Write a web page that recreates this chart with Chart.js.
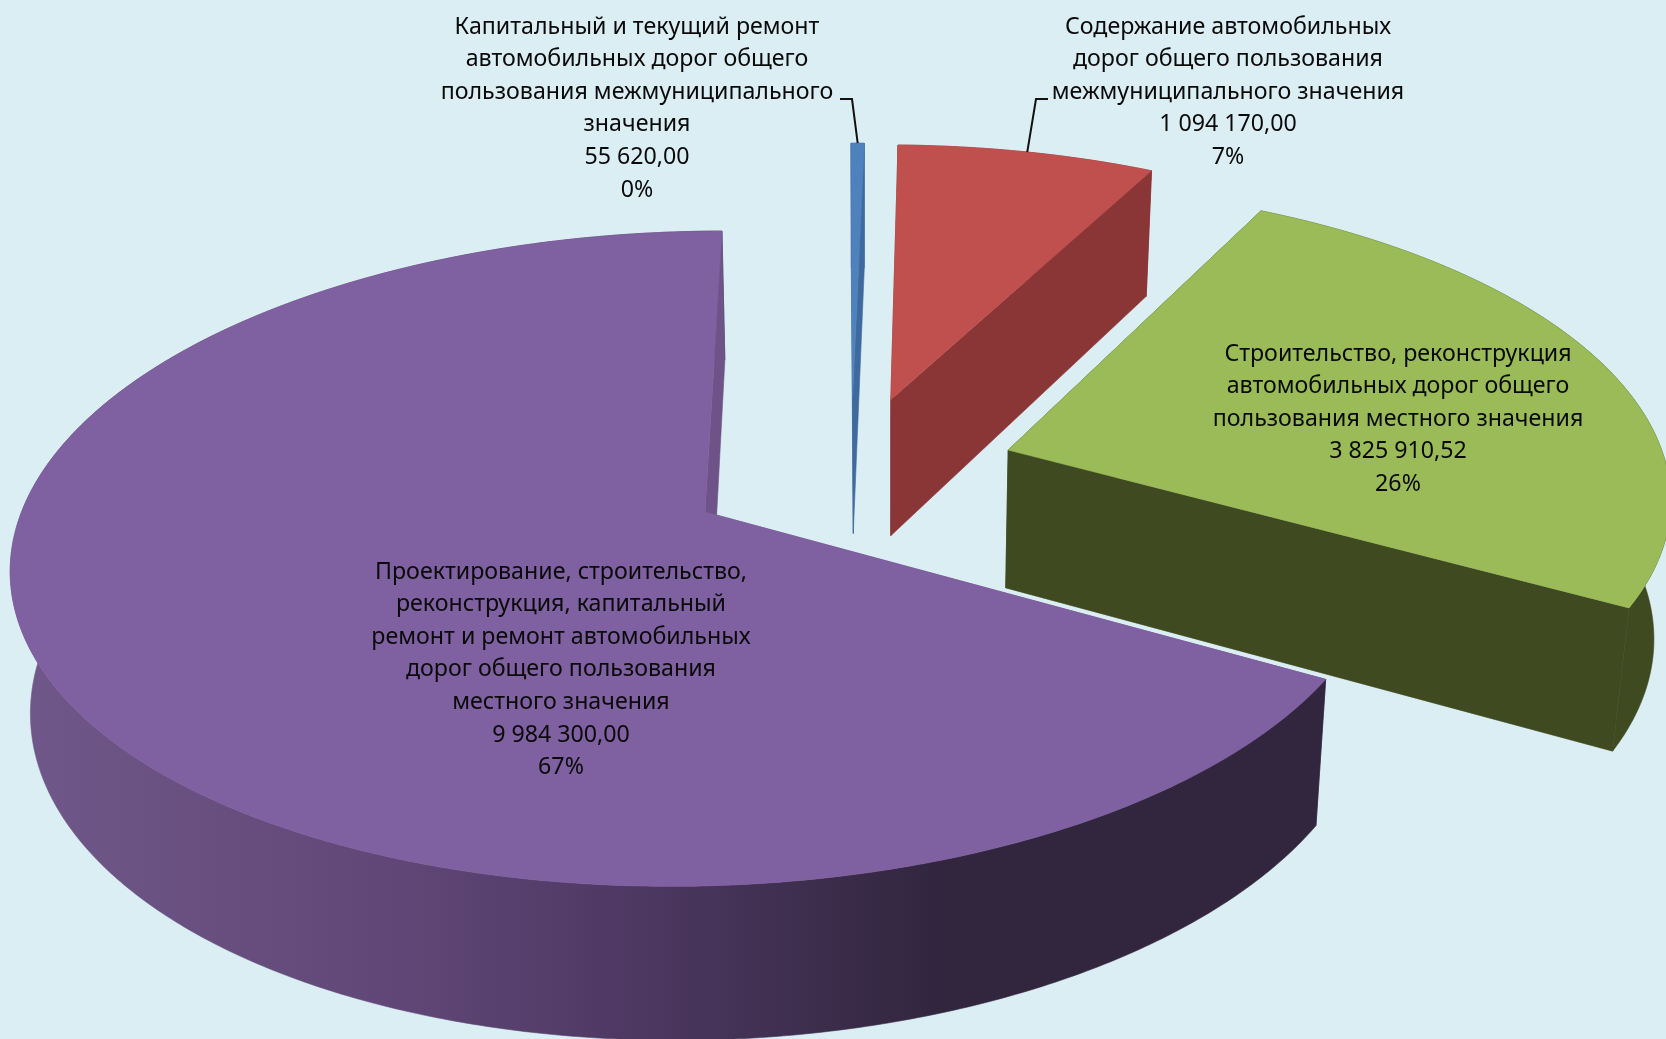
<!DOCTYPE html>
<html lang="ru">
<head>
<meta charset="utf-8">
<title>Дорожные расходы</title>
<script src="https://cdn.jsdelivr.net/npm/chart.js@4"></script>
<style>
    html, body { margin: 0; padding: 0; background: #dbeef4; overflow: hidden; }
    #pie { display: block; }
</style>
</head>
<body>
<canvas id="pie" width="1666" height="1039"></canvas>
<script>
// данные диаграммы
let categories = [
    'Капитальный и текущий ремонт автомобильных дорог общего пользования межмуниципального значения',
    'Содержание автомобильных дорог общего пользования межмуниципального значения',
    'Строительство, реконструкция автомобильных дорог общего пользования местного значения',
    'Проектирование, строительство, реконструкция, капитальный ремонт и ремонт автомобильных дорог общего пользования местного значения'
]
let values = [55620.00, 1094170.00, 3825910.52, 9984300.00]
let valueLabels = ['55 620,00', '1 094 170,00', '3 825 910,52', '9 984 300,00']
let percentLabels = ['0%', '7%', '26%', '67%']

// переносы строк в подписях
let categoryLines = [
    ['Капитальный и текущий ремонт', 'автомобильных дорог общего', 'пользования межмуниципального', 'значения'],
    ['Содержание автомобильных', 'дорог общего пользования', 'межмуниципального значения'],
    ['Строительство, реконструкция', 'автомобильных дорог общего', 'пользования местного значения'],
    ['Проектирование, строительство,', 'реконструкция, капитальный', 'ремонт и ремонт автомобильных', 'дорог общего пользования', 'местного значения']
]

// цвета
let topColors = ['#4f81bd', '#c0504d', '#9bbb59', '#7f60a0']
let wallColors = ['#3f6a9e', '#8a3536', '#404a21', '#6d5387']
let purpleWallStops = [[0, '#70588a'], [0.3, '#5f4676'], [0.45, '#503a65'], [0.7, '#32263f'], [1, '#32263f']]

// положение подписей (центр x, центр первой строки y)
let labelPos = [[637, 27], [1228, 27], [1398, 354], [561, 572]]
let lineStep = 32.6
let labelFont = '23.2px "Noto Sans"'
// выноски: начало у текста и излом
let leaders = [
    { slice: 0, from: [840, 99], bend: [852, 99] },
    { slice: 1, from: [1048, 99], bend: [1036, 99] }
]

// перспектива: плоскость круга -> экран
const VX = 1081, KX = -230, AX = 665, SHEAR = -4
const CY = 472, BY = 309, DEPTH = 142, TILT = 13
const PERSP = 0.14, PERSP_Z = 0.022

function project(x, y, z) {
    let w = 1 - PERSP * y + PERSP_Z * z
    return [VX + (AX * x + KX) / w + SHEAR * z, CY + (BY * y + TILT * x + DEPTH * z) / w]
}

function fillPoly(ctx, pts, color) {
    ctx.beginPath()
    pts.forEach(function (p, i) {
        if (i === 0) ctx.moveTo(p[0], p[1])
        else ctx.lineTo(p[0], p[1])
    })
    ctx.closePath()
    ctx.fillStyle = color
    ctx.fill()
    ctx.strokeStyle = color
    ctx.lineWidth = 0.6
    ctx.stroke()
}

// геометрия сектора берётся из элемента Chart.js
function sliceGeom(arc) {
    let p = arc.getProps(['startAngle', 'endAngle', 'outerRadius'], true)
    let R = p.outerRadius
    let mid = (p.startAngle + p.endAngle) / 2
    let e = arc.options.offset / R
    let ox = e * Math.cos(mid), oy = e * Math.sin(mid)
    let rim = []
    let n = Math.max(2, Math.ceil((p.endAngle - p.startAngle) / 0.01))
    for (let i = 0; i <= n; i++) {
        let a = p.startAngle + (p.endAngle - p.startAngle) * i / n
        rim.push([ox + Math.cos(a), oy + Math.sin(a)])
    }
    return { ox: ox, oy: oy, rim: rim, mid: mid }
}

const pie3d = {
    id: 'pie3d',
    beforeDatasetDraw(chart) {
        let ctx = chart.ctx
        let arcs = chart.getDatasetMeta(0).data
        arcs.forEach(function (arc, i) {
            let g = sliceGeom(arc)
            let top = g.rim.map(function (p) { return project(p[0], p[1], 0) })
            let bottom = g.rim.map(function (p) { return project(p[0], p[1], 1) })
            let apexTop = project(g.ox, g.oy, 0)
            let apexBottom = project(g.ox, g.oy, 1)
            let last = top.length - 1

            // стенка начала сектора (сзади)
            fillPoly(ctx, [apexTop, top[0], bottom[0], apexBottom], wallColors[i])

            // внешняя стенка
            let wall = wallColors[i]
            if (i === 3) {
                wall = ctx.createLinearGradient(13, 0, 1330, 0)
                purpleWallStops.forEach(function (s) { wall.addColorStop(s[0], s[1]) })
            }
            fillPoly(ctx, top.concat(bottom.slice().reverse()), wall)

            // стенка конца сектора
            fillPoly(ctx, [apexTop, top[last], bottom[last], apexBottom], wallColors[i])

            // верхняя грань
            fillPoly(ctx, [apexTop].concat(top), arc.options.backgroundColor)
        })
        return false // обычные дуги не рисуем
    },
    afterDatasetsDraw(chart) {
        let ctx = chart.ctx
        let arcs = chart.getDatasetMeta(0).data

        // выноски
        ctx.strokeStyle = '#111'
        ctx.lineWidth = 2
        leaders.forEach(function (l) {
            let g = sliceGeom(arcs[l.slice])
            let end = project(g.ox + Math.cos(g.mid), g.oy + Math.sin(g.mid), 0)
            ctx.beginPath()
            ctx.moveTo(l.from[0], l.from[1])
            ctx.lineTo(l.bend[0], l.bend[1])
            ctx.lineTo(end[0], end[1])
            ctx.stroke()
        })

        // подписи
        ctx.font = labelFont
        ctx.fillStyle = '#0a0a0a'
        ctx.textAlign = 'center'
        ctx.textBaseline = 'middle'
        categoryLines.forEach(function (lines, i) {
            let all = lines.concat([valueLabels[i], percentLabels[i]])
            all.forEach(function (t, k) {
                ctx.fillText(t, labelPos[i][0], labelPos[i][1] + k * lineStep)
            })
        })
    }
}

new Chart(document.getElementById('pie').getContext('2d'), {
    type: 'pie',
    data: {
        labels: categories,
        datasets: [{
            data: values,
            backgroundColor: topColors,
            borderWidth: 0,
            offset: 115
        }]
    },
    options: {
        responsive: false,
        animation: false,
        rotation: -2.9,
        layout: { padding: 0 },
        plugins: { legend: { display: false }, tooltip: { enabled: false } }
    },
    plugins: [pie3d]
})
</script>
</body>
</html>
